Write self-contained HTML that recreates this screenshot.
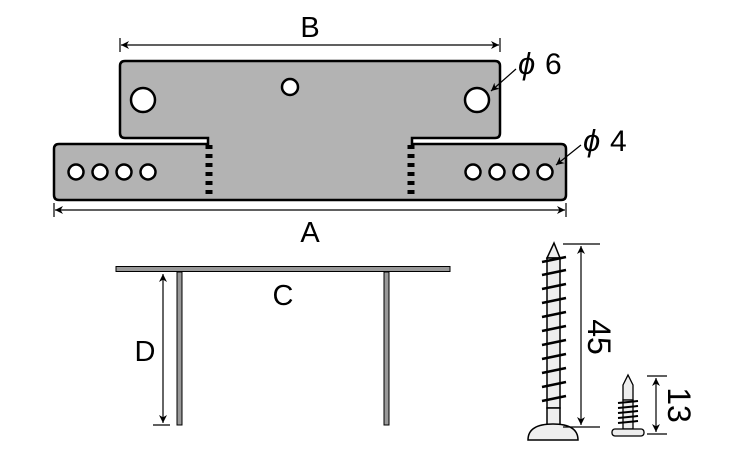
<!DOCTYPE html>
<html><head><meta charset="utf-8"><style>html,body{margin:0;padding:0;background:#fff}svg{display:block}</style></head>
<body>
<svg width="750" height="450" viewBox="0 0 750 450" xmlns="http://www.w3.org/2000/svg" font-family="Liberation Sans, sans-serif">
<defs>
<marker id="ar" viewBox="0 0 10 10" refX="10" refY="5" markerWidth="10" markerHeight="8" orient="auto-start-reverse" markerUnits="userSpaceOnUse"><path d="M0,0 L10,5 L0,10 L3,5z" fill="#000"/></marker>
</defs>
<!-- plate -->
<path d="M125,61 H495 Q500,61 500,66 V133 Q500,138 495,138 H412 V144 H561 Q566,144 566,149 V195 Q566,200 561,200 H59 Q54,200 54,195 V149 Q54,144 59,144 H208 V138 H125 Q120,138 120,133 V66 Q120,61 125,61 Z" fill="#b3b3b3" stroke="#000" stroke-width="2.5"/>
<g fill="#fff" stroke="#000" stroke-width="2.5">
<circle cx="143" cy="100" r="12"/><circle cx="477" cy="100" r="12"/><circle cx="290" cy="87" r="8"/>
<circle cx="76" cy="172" r="7.5"/><circle cx="100" cy="172" r="7.5"/><circle cx="124" cy="172" r="7.5"/><circle cx="148" cy="172" r="7.5"/>
<circle cx="473" cy="172" r="7.5"/><circle cx="497" cy="172" r="7.5"/><circle cx="521" cy="172" r="7.5"/><circle cx="545" cy="172" r="7.5"/>
</g>
<g stroke="#000" stroke-width="7" stroke-dasharray="4,5">
<line x1="209" y1="145" x2="209" y2="198"/><line x1="411" y1="145" x2="411" y2="198"/>
</g>
<!-- dims B, A -->
<g stroke="#000" stroke-width="1.2" fill="none">
<line x1="120" y1="38" x2="120" y2="52"/><line x1="500" y1="38" x2="500" y2="52"/>
<line x1="121" y1="45" x2="499" y2="45" marker-start="url(#ar)" marker-end="url(#ar)"/>
<line x1="54" y1="203" x2="54" y2="217"/><line x1="566" y1="203" x2="566" y2="217"/>
<line x1="55" y1="210" x2="565" y2="210" marker-start="url(#ar)" marker-end="url(#ar)"/>
<line x1="516" y1="69" x2="491" y2="91" marker-end="url(#ar)"/>
<line x1="581" y1="145" x2="556" y2="165" marker-end="url(#ar)"/>
</g>
<text x="310" y="37" font-size="29" text-anchor="middle">B</text>
<text x="310" y="242" font-size="29" text-anchor="middle">A</text>
<text x="518" y="74" font-size="31" font-style="italic">ϕ</text><text x="545" y="74" font-size="30">6</text>
<text x="583" y="151" font-size="31" font-style="italic">ϕ</text><text x="610" y="151" font-size="30">4</text>
<!-- C view -->
<g fill="#999" stroke="#000" stroke-width="1">
<rect x="116" y="266.5" width="334" height="5"/>
<rect x="177" y="272" width="5" height="153"/>
<rect x="384" y="272" width="5" height="153"/>
</g>
<line x1="163" y1="274" x2="163" y2="423" stroke="#000" stroke-width="1.2" marker-start="url(#ar)" marker-end="url(#ar)"/>
<line x1="153" y1="425" x2="170" y2="425" stroke="#000" stroke-width="1.2"/>
<text x="283" y="305" font-size="29" text-anchor="middle">C</text>
<text x="145" y="361" font-size="29" text-anchor="middle">D</text>
<!-- long screw -->
<g stroke="#000" stroke-width="1.5" fill="#eee">
<path d="M547,258 L554,243 L560,258 Z"/>
<rect x="547" y="258" width="13" height="150"/>
<path d="M547,408 H560 V425 H547 Z"/>
<path d="M528,440 Q528,424 553,424 Q578,424 578,440 Z"/>
</g>
<g stroke="#000" stroke-width="2.5">
<line x1="542" y1="262" x2="566" y2="257"/><line x1="542" y1="275" x2="566" y2="270"/><line x1="542" y1="289" x2="566" y2="284"/><line x1="542" y1="303" x2="566" y2="298"/><line x1="542" y1="317" x2="566" y2="312"/><line x1="542" y1="331" x2="566" y2="326"/><line x1="542" y1="345" x2="566" y2="340"/><line x1="542" y1="359" x2="566" y2="354"/><line x1="542" y1="373" x2="566" y2="368"/><line x1="542" y1="387" x2="566" y2="382"/><line x1="542" y1="401" x2="566" y2="396"/>
</g>
<g stroke="#000" stroke-width="1.2" fill="none">
<line x1="563" y1="244" x2="600" y2="244"/><line x1="563" y1="427" x2="600" y2="427"/>
<line x1="581" y1="246" x2="581" y2="425" marker-start="url(#ar)" marker-end="url(#ar)"/>
<line x1="647" y1="376" x2="667" y2="376"/><line x1="647" y1="434" x2="667" y2="434"/>
<line x1="656" y1="378" x2="656" y2="432" marker-start="url(#ar)" marker-end="url(#ar)"/>
</g>
<text transform="translate(588,337) rotate(90)" font-size="32" text-anchor="middle">45</text>
<text transform="translate(668,405) rotate(90)" font-size="32" text-anchor="middle">13</text>
<!-- small screw -->
<g stroke="#000" stroke-width="1.3" fill="#eee">
<path d="M623,385 L628,375 L633,385 V400 H623 Z"/>
<rect x="623" y="400" width="10" height="29"/>
<rect x="612" y="429" width="32" height="7" rx="3"/>
</g>
<g stroke="#000" stroke-width="2">
<line x1="618" y1="403" x2="638" y2="401"/><line x1="618" y1="408" x2="638" y2="406"/><line x1="618" y1="413" x2="638" y2="411"/><line x1="618" y1="418" x2="638" y2="416"/><line x1="618" y1="423" x2="638" y2="421"/>
</g>
</svg>
</body></html>
